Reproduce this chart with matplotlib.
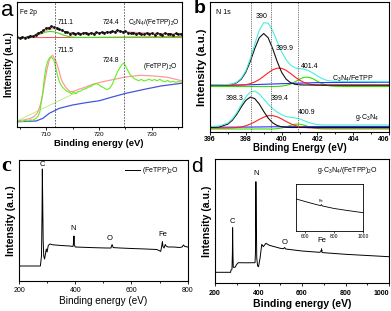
import matplotlib
matplotlib.use('Agg')
import matplotlib.pyplot as plt
from matplotlib.ticker import MultipleLocator

plt.rcParams['font.family'] = ['Liberation Sans', 'DejaVu Sans']
plt.rcParams['mathtext.default'] = 'regular'
plt.rcParams['axes.linewidth'] = 0.8

# ---------------- panel a: Fe 2p ----------------
a_top_x = [704.5, 705, 705.5, 706, 706.5, 707, 707.5, 708, 708.5, 709, 709.5, 710, 710.5, 711,
           711.5, 712, 712.5, 713, 713.5, 714, 714.5, 715, 715.5, 716, 716.5, 717, 717.5, 718,
           718.5, 719, 719.5, 720, 720.5, 721, 721.5, 722, 722.5, 723, 723.5, 724, 724.5, 725,
           725.5, 726, 726.5, 727, 727.5, 728, 728.5, 729, 729.5, 730, 730.5, 731, 731.5, 732,
           732.5, 733, 733.5, 734, 734.5, 735, 735.5]
a_top_y = [89.6, 89.0, 90.1, 89.4, 90.3, 91.2, 90.6, 92.5, 93.9, 95.2, 96.6, 98.7, 99.4, 100.6,
           99.8, 99.2, 97.6, 97.1, 95.4, 94.9, 93.5, 94.3, 93.2, 94.1, 92.8, 93.9, 94.5, 93.1,
           94.2, 93.4, 94.6, 93.8, 94.9, 94.1, 95.3, 94.7, 96.0, 95.4, 96.8, 96.1, 95.2, 95.9,
           94.4, 93.6, 94.5, 93.2, 94.0, 93.1, 92.7, 94.0, 92.9, 93.6, 92.5, 93.9, 93.0, 92.4,
           94.1, 92.8, 93.5, 92.2, 93.6, 92.6, 93.2]
a_top_fit_x = [704.5, 706, 707.5, 708.5, 709.5, 710.5, 711.2, 712, 713, 714, 715, 716, 718, 720,
               722, 724, 726, 728, 731, 733.5, 735.7]
a_top_fit_y = [89.0, 89.4, 90.5, 92.3, 95.0, 97.6, 98.4, 97.8, 96.2, 94.6, 93.8, 93.6, 93.8, 94.2,
               94.8, 95.2, 94.9, 94.3, 93.7, 93.3, 93.0]
a_top_comp_x = [704.5, 706, 707, 708, 709, 710, 710.7, 711.5, 712.5, 713.5, 714.5, 715.5, 716.5, 735.7]
a_top_comp_y = [89.5, 89.6, 90.0, 91.2, 93.2, 95.0, 95.5, 95.2, 93.6, 91.5, 90.2, 89.7, 89.5, 89.5]
a_top_base_x = [704.5, 735.7]
a_top_base_y = [89.2, 90.3]

a_bot_x = [704.5, 705, 705.5, 706, 706.5, 707, 707.5, 708, 708.5, 708.8, 709.1, 709.4, 709.7, 710.0,
           710.3, 710.6, 710.9, 711.2, 711.5, 711.8, 712.1, 712.4, 712.8, 713.2, 713.6, 714.0,
           714.4, 714.8, 715.2, 715.6, 716.0, 716.5, 717, 717.5, 718, 718.5, 719, 719.5, 720,
           720.5, 721, 721.5, 722, 722.5, 723, 723.5, 724, 724.4, 724.7, 725, 725.4, 725.8, 726.2,
           726.6, 727, 727.5, 728, 728.5, 729, 729.5, 730, 730.5, 731, 731.5, 732, 732.5, 733,
           733.5, 734, 734.5, 735, 735.6]
a_bot_y = [5.5, 6.2, 5.4, 6.6, 5.9, 7.1, 6.8, 8.4, 10.9, 15.0, 24.5, 36.0, 50.5, 60.2,
           65.8, 68.6, 70.2, 68.9, 66.4, 60.1, 52.7, 46.8, 42.0, 39.3, 37.2, 35.4,
           34.8, 33.2, 34.9, 33.1, 35.2, 35.9, 37.6, 38.2, 39.9, 40.6, 42.5, 43.4, 42.3,
           40.2, 38.9, 37.4, 38.6, 42.5, 48.9, 55.3, 59.6, 62.8, 63.9, 61.2, 57.0, 53.1, 50.4,
           48.8, 47.5, 46.3, 47.6, 45.9, 46.8, 47.9, 46.4, 47.5, 46.2, 47.7, 46.0, 45.3, 46.6,
           44.9, 45.8, 44.6, 45.5, 44.7]
a_bot_fit_x = [704.5, 706, 707, 707.7, 708.3, 708.8, 709.3, 709.7, 710.1, 710.6, 711.2, 711.9,
               712.4, 712.8, 713.2, 713.7, 714.2, 714.6, 715.2, 716.2, 717.5, 719, 720.5, 722.9,
               725.4, 727.9, 730.4, 733, 735.6]
a_bot_fit_y = [6.0, 7.2, 8.6, 10.3, 13.6, 20.3, 31.0, 43.7, 56.0, 67.0, 72.0, 65.3,
               57.0, 48.7, 44.0, 39.7, 36.8, 35.3, 35.6, 37.7, 40.0, 43.0, 45.0, 47.7,
               50.3, 51.7, 51.0, 49.7, 46.3]
a_bot_lin_x = [704.5, 716.0]
a_bot_lin_y = [6.0, 35.3]
a_bot_bg_x = [704.5, 708.1, 709.4, 710.6, 712.5, 715.0, 717.5, 720.1, 722.3, 725.1, 728.6, 731.7, 735.6]
a_bot_bg_y = [5.3, 6.0, 8.7, 13.7, 18.7, 22.0, 24.3, 26.3, 29.7, 33.7, 37.7, 41.0, 43.7]
a_marks = [711.6, 724.8]

# ---------------- panel b: N 1s ----------------
b_x = [396.0, 396.5, 397.0, 397.25, 397.5, 397.75, 398.0, 398.25, 398.5, 398.75, 399.0, 399.25,
       399.5, 399.75, 400.0, 400.25, 400.5, 400.75, 401.0, 401.25, 401.5, 401.75, 402.0, 402.25,
       402.5, 402.75, 403.0, 403.5, 404.0, 405.0, 406.0]
b_up_black = [46.5, 46.5, 46.7, 47.2, 48.8, 52.4, 59.3, 70.1, 82.9, 93.7, 98.0, 93.7, 82.9, 70.1,
              59.3, 52.4, 48.8, 47.2, 46.7, 46.5, 46.5, 46.5, 46.5, 46.5, 46.5, 46.5, 46.5, 46.5,
              46.5, 46.5, 46.5]
b_up_red = [46.0, 46.0, 46.0, 46.0, 46.1, 46.4, 46.8, 47.8, 49.5, 52.0, 55.2, 58.7, 61.7, 63.3,
            63.2, 61.2, 58.0, 54.5, 51.4, 49.1, 47.6, 46.7, 46.3, 46.1, 46.0, 46.0, 46.0, 46.0,
            46.0, 46.0, 46.0]
b_up_green = [45.0, 45.0, 45.0, 45.0, 45.0, 45.0, 45.0, 45.0, 45.0, 45.0, 45.0, 45.0, 45.0, 45.1,
              45.4, 46.1, 47.5, 49.7, 52.3, 54.2, 54.3, 52.8, 50.2, 47.9, 46.3, 45.5, 45.2, 45.0,
              45.0, 45.0, 45.0]
b_up_env = [46.8, 46.8, 47.0, 47.5, 49.3, 53.3, 60.7, 72.7, 87.4, 101.0, 108.8, 108.3, 100.8, 90.0,
            79.7, 71.7, 66.5, 63.7, 62.8, 62.3, 60.9, 58.5, 55.5, 53.0, 51.3, 50.5, 50.2, 50.0,
            50.0, 50.0, 50.0]
b_lo_black = [4.0, 4.4, 7.4, 11.3, 17.3, 24.6, 31.1, 34.4, 32.9, 27.5, 20.1, 13.4, 8.7, 6.0,
              4.7, 4.2, 4.0, 4.0, 4.0, 4.0, 4.0, 4.0, 4.0, 4.0, 4.0, 4.0, 4.0, 4.0,
              4.0, 4.0, 4.0]
b_lo_red = [3.5, 3.5, 3.6, 3.7, 4.0, 4.6, 5.7, 7.4, 9.6, 12.1, 14.3, 15.8, 15.9, 14.7,
            12.6, 10.1, 7.8, 6.0, 4.8, 4.1, 3.75, 3.6, 3.5, 3.5, 3.5, 3.5, 3.5, 3.5,
            3.5, 3.5, 3.5]
b_lo_green = [2.5, 2.5, 2.5, 2.5, 2.5, 2.5, 2.5, 2.5, 2.5, 2.5, 2.5, 2.5, 2.5, 2.85,
              3.5, 4.6, 6.1, 7.3, 7.4, 6.4, 4.9, 3.7, 2.95, 2.65, 2.5, 2.5, 2.5, 2.5,
              2.5, 2.5, 2.5]
b_lo_env = [5.0, 5.5, 8.5, 12.6, 18.9, 26.9, 34.5, 39.6, 40.4, 37.6, 32.5, 27.4, 22.9, 19.5,
            16.8, 15.0, 14.1, 13.6, 12.6, 10.9, 9.1, 7.8, 6.95, 6.65, 6.5, 6.5, 6.5, 6.5,
            6.5, 6.5, 6.5]
b_bg_x = [396, 398, 400, 402, 406]
b_up_bg = [46.3, 46.6, 47.8, 48.9, 49.3]
b_lo_bg = [4.3, 4.4, 4.8, 5.0, 5.0]
b_marks = [398.3, 399.4, 400.9]
b_ticks = [396, 398, 400, 402, 404, 406]

# ---------------- panel c: survey (FeTPP)2O ----------------
c_x = [200, 276, 277, 280, 282, 283, 284.5, 286, 288, 291, 294, 297, 300, 304, 310, 320, 350, 380,
       392, 394, 395.5, 397, 400, 430, 470, 510, 527, 531, 535, 560, 600, 650, 690, 700, 704, 707,
       710, 712, 716, 720, 723, 730, 750, 770, 780, 785, 790, 800]
c_y = [15.0, 15.0, 17.5, 25, 70, 112, 75, 40, 25, 22, 27, 32, 29, 35.5, 37, 36.2, 35.5, 35,
       34.5, 38, 45, 36, 34, 33.7, 33.3, 33, 33, 36.5, 33.4, 33, 32.5, 32, 31.5, 30.2, 29.6, 34,
       39.5, 34.5, 33, 36.5, 35, 34, 34, 33.5, 34, 36, 34.5, 34]

# ---------------- panel d: survey g-C3N4/(FeTPP)2O ----------------
d_x = [200, 272, 273, 278, 280, 281, 282.5, 284, 292, 300, 307, 340, 384, 386, 388, 390, 392, 396,
       400, 407, 415, 422, 434, 450, 500, 515, 520, 525, 600, 680, 688, 695, 700, 800, 900, 1000]
d_y = [11.0, 11.0, 13.0, 14.0, 30, 55.6, 30, 16, 16.0, 19.0, 20.6, 20.5, 20.6, 30, 101.6, 60, 25,
       17.3, 16.6, 25, 39, 36.6, 40, 38, 35, 34.6, 35.8, 34.3, 32.3, 31.0, 31.8, 30.7, 30.6, 29,
       27.8, 26.6]
d_ticks = [200, 400, 600, 800, 1000]
inset_x = [540, 600, 650, 700, 708, 712, 720, 800, 900, 1000]
inset_y = [32.0, 29.5, 27.5, 25.6, 25.4, 26.4, 25.0, 22.5, 20.3, 18.3]

W, H = 391, 311


def box(l, t, r, b):
    return [l / W, 1 - b / H, (r - l) / W, (b - t) / H]


fig = plt.figure(figsize=(3.91, 3.11), dpi=100)

# ---- a ----
ax = fig.add_axes(box(16.5, 2, 182, 127))
ax.plot(a_top_base_x, a_top_base_y, color='#ff3030', lw=0.6)
ax.plot(a_top_comp_x, a_top_comp_y, color='#44dd11', lw=0.8)
ax.plot(a_top_fit_x, a_top_fit_y, color='#ff9a9a', lw=0.8)
ax.plot(a_top_x, a_top_y, color='#111111', lw=0.6, marker='o', ms=1.0)
ax.plot(a_bot_lin_x, a_bot_lin_y, color='#aaee77', lw=0.6)
ax.plot(a_bot_bg_x, a_bot_bg_y, color='#4455dd', lw=0.9)
ax.plot(a_bot_fit_x, a_bot_fit_y, color='#ff9a9a', lw=0.9)
ax.plot(a_bot_x, a_bot_y, color='#66ee22', lw=0.8)
for m in a_marks:
    ax.axvline(m, color='#555555', lw=0.6, ls=(0, (2, 1.5)))
ax.set_xlim(704.4, 735.7)
ax.set_ylim(0, 125)
ax.set_yticks([])
ax.xaxis.set_major_locator(MultipleLocator(10))
ax.xaxis.set_minor_locator(MultipleLocator(5))
ax.tick_params(axis='x', which='both', direction='out', length=2, width=0.6, labelsize=4.6, pad=1.5)
ax.tick_params(axis='x', which='minor', length=1.3)
ax.set_xlabel('Binding energy (eV)', fontsize=6.8, fontweight='bold', labelpad=1.5)
ax.set_ylabel('Intensity (a.u.)', fontsize=6.9, fontweight='bold', labelpad=2)
ax.text(705.0, 115, 'Fe 2p', fontsize=4.8, va='center')
ax.text(712.2, 104, '711.1', fontsize=4.8, va='center')
ax.text(720.7, 104, '724.4', fontsize=4.8, va='center')
ax.text(725.4, 105, r'C$_3$N$_4$/(FeTPP)$_2$O', fontsize=4.8, va='center')
ax.text(712.2, 77, '711.5', fontsize=4.8, va='center')
ax.text(720.8, 66, '724.8', fontsize=4.8, va='center')
ax.text(728.4, 60, r'(FeTPP)$_2$O', fontsize=4.8, va='center')

# ---- b ----
ax = fig.add_axes(box(210, 2, 389, 131.5))
ax.plot(b_x, b_up_green, color='#33dd00', lw=0.8)
ax.plot(b_bg_x, b_up_bg, color='#3030ff', lw=0.8)
ax.plot(b_x, b_up_red, color='#ff2020', lw=0.8)
ax.plot(b_x, b_up_black, color='#111111', lw=0.8)
ax.plot(b_x, b_up_env, color='#44f0dc', lw=0.8)
ax.plot(b_x, b_lo_green, color='#33dd00', lw=0.8)
ax.plot(b_bg_x, b_lo_bg, color='#3030ff', lw=0.8)
ax.plot(b_x, b_lo_red, color='#ff2020', lw=0.8)
ax.plot(b_x, b_lo_black, color='#111111', lw=0.8)
ax.plot(b_x, b_lo_env, color='#44f0dc', lw=0.8)
for m in b_marks:
    ax.axvline(m, color='#666666', lw=0.6, ls=(0, (1.5, 1.2)))
ax.set_xlim(396, 406)
ax.set_ylim(0, 129.5)
ax.set_yticks([])
ax.set_xticks(b_ticks)
ax.xaxis.set_minor_locator(MultipleLocator(1))
ax.tick_params(axis='x', which='both', direction='out', length=1.8, width=0.6, labelsize=5, pad=1.2)
ax.tick_params(axis='x', which='minor', length=1.1)
for t in ax.xaxis.get_major_ticks():
    t.label1.set_fontweight('bold')
ax.xaxis.get_major_ticks()[-1].label1.set_horizontalalignment('right')
ax.set_xlabel('Binding Energy (eV)', fontsize=7, fontweight='bold', labelpad=0)
ax.set_ylabel('Intensity (a.u.)', fontsize=8.2, fontweight='bold', labelpad=2)
ax.text(396.35, 118.5, 'N 1s', fontsize=5, va='center')
ax.text(398.89, 114.8, '390', fontsize=5, va='center', ha='center')
ax.text(400.19, 83.5, '399.9', fontsize=5, va='center', ha='center')
ax.text(401.59, 65.5, '401.4', fontsize=5, va='center', ha='center')
ax.text(403.99, 52.5, r'C$_3$N$_4$/FeTPP', fontsize=5, va='center', ha='center')
ax.text(397.4, 32.5, '398.3', fontsize=5, va='center', ha='center')
ax.text(399.9, 32.5, '399.4', fontsize=5, va='center', ha='center')
ax.text(401.4, 18.5, '400.9', fontsize=5, va='center', ha='center')
ax.text(404.75, 13.8, r'g-C$_3$N$_4$', fontsize=5, va='center', ha='center')

# ---- c ----
ax = fig.add_axes(box(19, 160, 187.7, 281))
ax.plot(c_x, c_y, color='black', lw=0.7, label=r'(FeTPP)$_2$O')
ax.set_xlim(200, 800)
ax.set_ylim(0, 121)
ax.set_yticks([])
ax.xaxis.set_major_locator(MultipleLocator(200))
ax.xaxis.set_minor_locator(MultipleLocator(100))
ax.tick_params(axis='x', which='both', direction='out', length=2, width=0.6, labelsize=5, pad=2.5)
ax.tick_params(axis='x', which='minor', length=1.3)
ax.set_xlabel('Binding energy (eV)', fontsize=7.2, labelpad=1.5)
ax.set_ylabel('Intensity (a.u.)', fontsize=7.5, fontweight='bold', labelpad=2)
ax.text(283, 116, 'C', fontsize=5.5, ha='center', va='center')
ax.text(393, 52, 'N', fontsize=5.5, ha='center', va='center')
ax.text(524, 42, 'O', fontsize=5.5, ha='center', va='center')
ax.text(711, 46, 'Fe', fontsize=5.5, ha='center', va='center')
ax.legend(loc='upper right', bbox_to_anchor=(0.96, 0.98), frameon=False, fontsize=5,
          handlelength=2.2, handletextpad=0.2, borderaxespad=0)

# ---- d ----
ax = fig.add_axes(box(215, 159, 389, 283.3))
ax.plot(d_x, d_y, color='black', lw=0.7)
ax.set_xlim(200, 1000)
ax.set_ylim(0, 124.3)
ax.set_yticks([])
ax.set_xticks(d_ticks)
ax.xaxis.set_minor_locator(MultipleLocator(100))
ax.tick_params(axis='x', which='both', direction='out', length=2, width=0.6, labelsize=5, pad=2.5)
ax.tick_params(axis='x', which='minor', length=1.3)
for t in ax.xaxis.get_major_ticks():
    t.label1.set_fontweight('bold')
ax.xaxis.get_major_ticks()[-1].label1.set_horizontalalignment('right')
ax.set_xlabel('Binding energy (eV)', fontsize=7.5, fontweight='bold', labelpad=1.5)
ax.set_ylabel('Intensity (a.u.)', fontsize=7.6, fontweight='bold', labelpad=2)
ax.text(388, 110, 'N', fontsize=5.5, ha='center', va='center')
ax.text(281, 61.6, 'C', fontsize=5.5, ha='center', va='center')
ax.text(522, 41.3, 'O', fontsize=5.5, ha='center', va='center')
ax.text(690, 42.3, 'Fe', fontsize=5.5, ha='center', va='center')
ax.annotate('', xy=(690, 37.5), xytext=(690, 31.5),
            arrowprops=dict(arrowstyle='-|>', lw=0.5, color='black', mutation_scale=3))
ax.text(0.759, 0.911, r'g-C$_3$N$_4$/(FeTPP)$_2$O', transform=ax.transAxes, fontsize=5,
        ha='center', va='center')

ins = fig.add_axes(box(296, 184.3, 363.3, 231))
ins.plot(inset_x, inset_y, color='black', lw=0.6)
ins.set_xlim(538, 1000)
ins.set_ylim(0, 46.7)
ins.set_yticks([])
ins.set_xticks([600, 800, 1000])
ins.tick_params(axis='x', direction='out', length=1.2, width=0.5, labelsize=3.6, pad=1)
ins.text(712, 30, 'Fe', fontsize=3, ha='center', va='center')
for s in ins.spines.values():
    s.set_linewidth(0.6)

# panel letters
fig.text(0.5 / W, 1 - 0 / H, 'a', fontsize=16, va='top', ha='left')
fig.text(194 / W, 1 - 0 / H, 'b', fontsize=14, fontweight='bold', va='top', ha='left')
fig.text(1 / W, 1 - 156 / H, 'c', fontsize=16, fontweight='bold', family='Liberation Serif',
         va='top', ha='left')
fig.text(191 / W, 1 - 157 / H, 'd', fontsize=15, va='top', ha='left')

fig.savefig('out.png', dpi=100)
